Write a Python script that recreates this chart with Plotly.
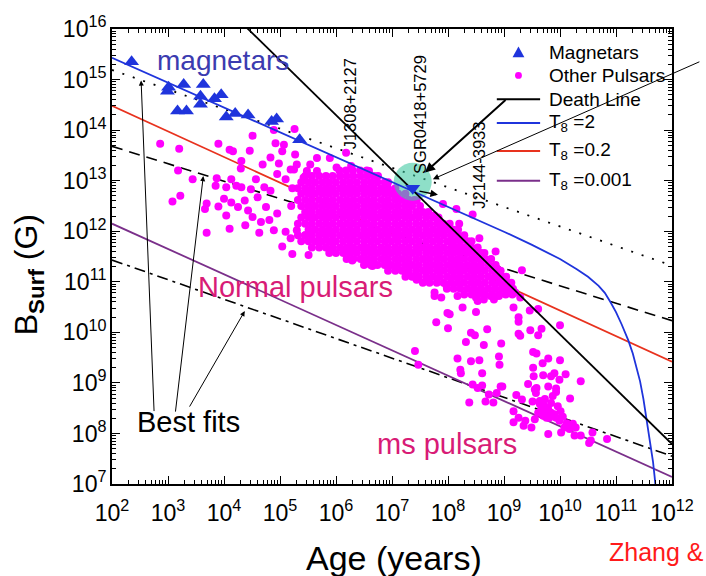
import plotly.graph_objects as go

FONT = "Liberation Sans, Arial, sans-serif"

# ---------------- data (log10 of age in years, log10 of B in gauss) ----------------
MAG_LOG_AGE = [2.35, 3.01, 2.99, 3.28, 3.63, 3.58, 3.58, 3.17, 3.33, 3.83, 3.95,
               4.04, 4.20, 4.43, 4.85, 4.94, 5.35]
MAG_LOG_B = [15.35, 14.85, 14.77, 14.90, 14.90, 14.67, 14.51, 14.38, 14.38, 14.62, 14.70,
             14.26, 14.33, 14.30, 14.17, 14.22, 13.81]

SGR_LOG_AGE = [7.37]
SGR_LOG_B = [12.85]
HALO_LOG_AGE = [7.37]
HALO_LOG_B = [12.98]

# isolated pulsars
PSR_LOG_AGE = [
    2.86, 3.20, 3.18, 3.90, 4.10, 4.16, 4.46, 4.51, 4.31, 4.69, 4.89, 4.92, 5.07, 5.04, 4.83,
    4.98, 5.26, 5.27, 5.30, 5.54, 5.66, 5.19, 5.48, 3.44, 3.87, 3.85, 3.08, 3.22, 3.69, 3.66,
    3.90, 4.04, 4.13, 4.30, 4.22, 4.31, 4.00, 4.13, 4.04, 4.10, 3.69, 4.25, 4.37, 4.43, 4.38,
    4.51, 4.57, 4.48, 4.60, 4.66, 4.63, 4.75, 4.72, 4.83, 4.81, 4.89, 4.95, 5.04, 5.22, 5.51,
    5.19, 5.10, 5.30, 5.45, 5.71, 5.92, 4.95, 5.10, 5.25, 5.42, 5.66, 6.01, 5.89, 6.27, 6.18,
    6.59, 7.44, 7.06, 7.76, 7.85, 7.94, 8.08, 8.44, 8.20, 8.85, 9.32, 8.56, 8.87, 9.02, 9.17,
    9.29, 7.36, 7.76, 7.88, 8.59, 8.76, 9.20, 7.91, 8.15, 6.29, 6.65, 7.25, 7.44, 7.62, 7.76,
    7.79, 7.99, 8.03, 8.00, 7.97, 8.17, 8.26, 7.41, 7.47, 8.17, 8.22, 8.50, 8.64, 8.82, 8.91,
    8.53, 8.50, 9.17, 9.46, 9.61, 9.26, 9.26, 8.41, 8.48, 8.70, 9.26, 9.29, 9.47, 9.67, 9.61,
    10.00, 8.32, 8.64, 8.95, 8.41, 8.56, 8.91, 8.92, 9.58, 9.69, 9.79, 10.00, 9.52, 8.61, 9.53,
    9.70, 9.84, 9.90, 10.10, 9.99, 10.37, 8.44, 9.43, 9.58, 9.79, 9.93, 8.97, 8.23, 8.38, 8.53,
    8.61, 8.67, 8.81, 8.73, 8.87, 8.94, 9.22, 9.55, 9.57, 9.93, 10.18, 9.32, 9.51,
    9.64, 9.70, 9.76, 9.67, 9.73, 9.79, 9.84, 9.90, 9.81, 9.93, 9.99, 9.76, 9.61, 9.70, 9.64,
    9.84, 9.73, 9.87, 9.96, 10.01, 10.05,
    9.17, 9.26, 9.17, 9.35, 9.49, 9.38, 9.55, 9.79, 10.02, 10.08, 10.17, 10.23, 10.28, 10.26,
    10.37, 10.58, 10.55, 10.52, 10.84, 10.12, 9.52,
]
PSR_LOG_B = [
    13.73, 13.63, 13.20, 13.73, 13.61, 13.58, 13.59, 13.89, 13.39, 13.32, 14.00, 13.74, 13.71, 13.58, 13.46,
    13.34, 14.02, 13.52, 13.32, 13.32, 13.45, 13.22, 13.19, 13.03, 13.05, 12.90, 12.59, 12.70, 12.55, 12.44,
    12.49, 12.87, 13.03, 13.24, 12.90, 12.87, 12.64, 12.57, 12.31, 12.05, 11.97, 12.48, 12.61, 12.41, 12.12,
    12.28, 13.03, 12.83, 12.67, 12.18, 11.97, 12.48, 12.87, 12.80, 12.22, 12.02, 12.35, 11.70, 11.55, 11.53,
    11.86, 11.99, 12.02, 11.92, 11.79, 11.79, 13.13, 13.03, 13.22, 13.06, 13.19, 13.26, 13.45, 13.29, 13.55,
    13.19, 12.61, 12.67, 12.31, 12.18, 12.02, 11.76, 12.33, 12.15, 11.60, 11.23, 11.86, 11.27, 10.85, 10.79,
    10.69, 11.11, 10.79, 10.69, 10.85, 10.72, 10.79, 12.54, 12.44, 11.42, 11.31, 11.12, 11.04, 11.08, 10.72,
    10.20, 10.38, 10.36, 10.08, 10.93, 10.72, 10.49, 9.63, 9.36, 9.48, 9.26, 10.69, 10.65, 10.65, 10.72,
    10.62, 10.40, 10.49, 10.43, 10.46, 10.30, 10.21, 9.99, 9.94, 10.06, 9.97, 9.93, 10.04, 10.07, 9.94,
    10.14, 9.81, 9.75, 9.78, 9.43, 9.45, 9.52, 9.36, 9.58, 9.39, 9.48, 9.45, 9.30, 9.19, 9.13,
    9.15, 9.13, 9.19, 9.17, 9.06, 9.03, 8.97, 8.98, 8.90, 8.93, 8.89, 8.93, 9.19, 8.61, 8.90,
    8.95, 8.63, 8.61, 8.77, 8.80, 8.93, 8.76, 8.87, 8.80, 8.82, 8.69, 8.67, 8.63,
    8.64, 8.58, 8.51, 8.51, 8.44, 8.48, 8.41, 8.38, 8.31, 8.31, 8.25, 8.31, 8.41, 8.35, 8.58,
    8.60, 8.68, 8.74, 8.54, 8.44, 8.33,
    8.44, 8.31, 8.22, 8.15, 8.12, 8.25, 8.28, 7.99, 8.02, 8.12, 8.09, 8.19, 8.12, 7.96,
    7.96, 8.02, 7.86, 7.81, 7.89, 8.20, 9.61,
]

# crowded population of normal pulsars, row by row (log B of each row, log ages in it)
CORE_ROW_LOG_B = [13.20, 13.09, 12.97, 12.85, 12.74, 12.62, 12.50, 12.38, 12.27, 12.15, 12.03,
                  11.92, 11.80, 11.68, 11.57, 11.45, 11.33, 11.22, 11.10, 10.98, 10.86, 10.75]
CORE_ROW_LOG_AGE = [
    [6.06, 6.18, 6.30, 6.43, 6.55],
    [5.45, 5.57, 5.70, 5.82, 5.94, 6.07, 6.19, 6.31, 6.44, 6.56, 6.68, 6.75],
    [5.38, 5.51, 5.63, 5.76, 5.88, 6.00, 6.13, 6.25, 6.37, 6.50, 6.62, 6.74, 6.87, 6.93],
    [5.22, 5.32, 5.45, 5.57, 5.70, 5.82, 5.94, 6.07, 6.19, 6.31, 6.44, 6.56, 6.68, 6.81, 6.93, 7.06],
    [5.38, 5.51, 5.63, 5.76, 5.88, 6.00, 6.13, 6.25, 6.37, 6.50, 6.62, 6.74, 6.87, 6.99, 7.11, 7.24],
    [5.32, 5.45, 5.57, 5.70, 5.82, 5.94, 6.07, 6.19, 6.31, 6.44, 6.56, 6.68, 6.81, 6.93, 7.06, 7.18,
     7.30, 7.40],
    [5.20, 5.38, 5.51, 5.63, 5.76, 5.88, 6.00, 6.13, 6.25, 6.37, 6.50, 6.62, 6.74, 6.87, 6.99, 7.11, 7.24,
     7.36, 7.50],
    [5.45, 5.57, 5.70, 5.82, 5.94, 6.07, 6.19, 6.31, 6.44, 6.56, 6.68, 6.81, 6.93, 7.06, 7.18,
     7.30, 7.43, 7.55, 7.65],
    [5.38, 5.51, 5.63, 5.76, 5.88, 6.00, 6.13, 6.25, 6.37, 6.50, 6.62, 6.74, 6.87, 6.99, 7.11, 7.24,
     7.36, 7.48, 7.61, 7.73, 7.83],
    [5.32, 5.45, 5.57, 5.70, 5.82, 5.94, 6.07, 6.19, 6.31, 6.44, 6.56, 6.68, 6.81, 6.93, 7.06, 7.18,
     7.30, 7.43, 7.55, 7.67, 7.80, 7.92, 8.03],
    [5.51, 5.63, 5.76, 5.88, 6.00, 6.13, 6.25, 6.37, 6.50, 6.62, 6.74, 6.87, 6.99, 7.11, 7.24,
     7.36, 7.48, 7.61, 7.73, 7.85, 7.98, 8.10, 8.18],
    [5.32, 5.45, 5.57, 5.70, 5.82, 5.94, 6.07, 6.19, 6.31, 6.44, 6.56, 6.68, 6.81, 6.93, 7.06, 7.18,
     7.30, 7.43, 7.55, 7.67, 7.80, 7.92, 8.05, 8.17, 8.29],
    [5.38, 5.51, 5.63, 5.76, 5.88, 6.00, 6.13, 6.25, 6.37, 6.50, 6.62, 6.74, 6.87, 6.99, 7.11, 7.24,
     7.36, 7.48, 7.61, 7.73, 7.85, 7.98, 8.10, 8.22, 8.35, 8.42],
    [5.57, 5.70, 5.82, 5.94, 6.07, 6.19, 6.31, 6.44, 6.56, 6.68, 6.81, 6.93, 7.06, 7.18, 7.30, 7.43,
     7.55, 7.67, 7.80, 7.92, 8.05, 8.17, 8.29, 8.42, 8.53],
    [5.88, 6.00, 6.13, 6.25, 6.37, 6.50, 6.62, 6.74, 6.87, 6.99, 7.11, 7.24, 7.36, 7.48, 7.61, 7.73,
     7.85, 7.98, 8.10, 8.22, 8.35, 8.47, 8.59, 8.65],
    [6.19, 6.31, 6.44, 6.56, 6.68, 6.81, 6.93, 7.06, 7.18, 7.30, 7.43, 7.55, 7.67, 7.80, 7.92, 8.05,
     8.17, 8.29, 8.42, 8.54, 8.66, 8.77],
    [6.50, 6.62, 6.74, 6.87, 6.99, 7.11, 7.24, 7.36, 7.48, 7.61, 7.73, 7.85, 7.98, 8.10, 8.22, 8.35,
     8.47, 8.59, 8.72, 8.85],
    [6.93, 7.06, 7.18, 7.30, 7.43, 7.55, 7.67, 7.80, 7.92, 8.05, 8.17, 8.29, 8.42, 8.54, 8.66, 8.79,
     8.94],
    [7.24, 7.36, 7.48, 7.61, 7.73, 7.85, 7.98, 8.10, 8.22, 8.35, 8.47, 8.59, 8.72, 8.84, 8.96, 9.04],
    [7.55, 7.67, 7.80, 7.92, 8.05, 8.17, 8.29, 8.42, 8.54, 8.66, 8.79, 8.91, 9.03, 9.13],
    [7.98, 8.10, 8.22, 8.35, 8.47, 8.59, 8.72, 8.84, 8.96, 9.09, 9.16],
    [8.29, 8.42, 8.54, 8.66, 8.79, 8.91, 9.03, 9.15],
]

# model / fit lines
LINE_LOG_AGE = [2.0, 12.0]
FIT_MAG_LOG_B = [15.19, 11.32]      # dotted
FIT_NORMAL_LOG_B = [13.68, 10.23]   # dashed
FIT_MS_LOG_B = [11.43, 7.55]        # dash-dot
T02_LOG_B = [14.48, 9.42]
T0001_LOG_B = [12.15, 7.14]
DEATH_LOG_AGE = [4.30, 12.0]
DEATH_LOG_B = [16.14, 7.79]
T2_LOG_AGE = [2.0, 6.0, 8.0, 9.0, 9.5, 10.0, 10.3, 10.5, 10.69, 10.8, 10.9, 11.0, 11.1, 11.22,
              11.3, 11.37, 11.43, 11.49, 11.54, 11.59, 11.63, 11.66, 11.69, 11.71]
T2_LOG_B = [15.43, 13.47, 12.49, 11.99, 11.73, 11.45, 11.25, 11.10, 10.92, 10.78, 10.60, 10.40, 10.16, 9.84,
            9.58, 9.30, 9.03, 8.68, 8.31, 7.98, 7.73, 7.45, 7.14, 6.90]

LEGEND_LABELS = ["Magnetars", "Other Pulsars", "Death Line",
                 "T<sub>8</sub> =2", "T<sub>8</sub> =0.2", "T<sub>8</sub> =0.001"]


def lin(vals):
    return [10 ** v for v in vals]


core_age, core_b = [], []
for lb, row in zip(CORE_ROW_LOG_B, CORE_ROW_LOG_AGE):
    core_age += row
    core_b += [lb] * len(row)

BLUE = "#1f34dc"
RED = "#e8321e"
PURPLE = "#7a2f8a"
MAGENTA = "#ff00ff"
PINK_TXT = "#d81b76"

# plot area in pixels (for legend / text placement in paper space)
L, R, T, B = 112, 681, 23, 484


def px_x(p):
    return (p - L) / (R - L)


def px_y(p):
    return 1 - (p - T) / (B - T)


fig = go.Figure()


def add_line(xs, ys, color, width=1.8, dash="solid"):
    fig.add_trace(go.Scatter(
        x=lin(xs), y=lin(ys), mode="lines", line=dict(color=color, width=width, dash=dash),
        showlegend=False, hoverinfo="skip"))


add_line(LINE_LOG_AGE, FIT_MAG_LOG_B, "black", 1.8, "2px,9px")
add_line(LINE_LOG_AGE, FIT_NORMAL_LOG_B, "black", 1.6, "11px,7px")
add_line(LINE_LOG_AGE, FIT_MS_LOG_B, "black", 1.6, "11px,5px,3px,5px")
add_line(LINE_LOG_AGE, T02_LOG_B, RED, 1.8)
add_line(LINE_LOG_AGE, T0001_LOG_B, PURPLE, 1.8)

fig.add_trace(go.Scatter(
    x=lin(PSR_LOG_AGE + core_age), y=lin(PSR_LOG_B + core_b), mode="markers",
    marker=dict(color=MAGENTA, size=8, line=dict(width=0)),
    showlegend=False, hoverinfo="skip"))

fig.add_trace(go.Scatter(
    x=lin(HALO_LOG_AGE), y=lin(HALO_LOG_B), mode="markers",
    marker=dict(color="rgba(60,200,160,0.58)", size=38, line=dict(width=0)),
    showlegend=False, hoverinfo="skip"))

add_line(T2_LOG_AGE, T2_LOG_B, BLUE, 1.8)
add_line(DEATH_LOG_AGE, DEATH_LOG_B, "black", 1.8)

fig.add_trace(go.Scatter(
    x=lin(MAG_LOG_AGE), y=lin(MAG_LOG_B), mode="markers",
    marker=dict(symbol="triangle-up", color=BLUE, size=13, line=dict(width=0)),
    showlegend=False, hoverinfo="skip"))
fig.add_trace(go.Scatter(
    x=lin(SGR_LOG_AGE), y=lin(SGR_LOG_B), mode="markers",
    marker=dict(symbol="triangle-down", color=BLUE, size=13, line=dict(width=0)),
    showlegend=False, hoverinfo="skip"))

ann = []
shapes = []


def label(text, lx, ly, size, color, angle=0):
    ann.append(dict(text=text, x=lx, y=ly, xref="x", yref="y", showarrow=False, textangle=angle,
                    font=dict(family=FONT, size=size, color=color), xanchor="center", yanchor="middle"))


label("magnetars", 3.98, 15.37, 28, "#3b3bb0")
label("Normal pulsars", 5.28, 10.90, 29, PINK_TXT)
label("ms pulsars", 7.98, 7.80, 29, PINK_TXT)
label("Best fits", 3.36, 8.22, 29, "black")
label("J1308+2127", 6.25, 14.51, 16.5, "black", -90)
label("SGR0418+5729", 7.50, 14.30, 16.5, "black", -90)
label("J2144-3933", 8.54, 13.30, 16.5, "black", -90)


def arrow(hx, hy, ax, ay, width=1.0, size=1.0):
    ann.append(dict(text="", x=hx, y=hy, xref="x", yref="y", ax=ax, ay=ay, axref="pixel", ayref="pixel",
                    showarrow=True, arrowhead=2, arrowsize=size, arrowwidth=width, arrowcolor="black",
                    standoff=0))


arrow(2.52, 14.98, 13, 332)
arrow(3.63, 13.09, -28, 237)
arrow(4.37, 10.42, -56, 97)
arrow(7.59, 13.16, 82, -74, 2.0, 1.0)
arrow(7.73, 13.03, 268, -118, 1.0, 1.2)
arrow(7.82, 12.72, -20, -4, 1.5, 1.0)

# legend, drawn in paper space
row_y = [46.7, 70.0, 94.3, 118.3, 146.7, 176.7]
sym_x0, sym_x1, txt_x = 503, 547, 554
for text, yy in zip(LEGEND_LABELS, row_y):
    ann.append(dict(text=text, x=px_x(txt_x), y=px_y(yy), xref="paper", yref="paper", showarrow=False,
                    font=dict(family=FONT, size=19, color="black"), xanchor="left", yanchor="middle"))
cx = (sym_x0 + sym_x1) / 2
shapes.append(dict(type="path", xref="paper", yref="paper", fillcolor=BLUE, line=dict(width=0),
                   path="M {:.5f},{:.5f} L {:.5f},{:.5f} L {:.5f},{:.5f} Z".format(
                       px_x(cx - 6), px_y(row_y[0] + 5), px_x(cx + 6), px_y(row_y[0] + 5),
                       px_x(cx), px_y(row_y[0] - 6))))
shapes.append(dict(type="circle", xref="paper", yref="paper", fillcolor=MAGENTA, line=dict(width=0),
                   x0=px_x(cx - 3.5), x1=px_x(cx + 3.5), y0=px_y(row_y[1] + 3.5), y1=px_y(row_y[1] - 3.5)))
for yy, col in zip(row_y[2:], ["black", BLUE, RED, PURPLE]):
    shapes.append(dict(type="line", xref="paper", yref="paper", x0=px_x(sym_x0), x1=px_x(sym_x1),
                       y0=px_y(yy), y1=px_y(yy), line=dict(color=col, width=2)))

ann.append(dict(text="B<sub><b>Surf</b></sub> (G)", x=-0.149, y=0.46, xref="paper", yref="paper",
                showarrow=False, textangle=-90, font=dict(family=FONT, size=32, color="black"),
                xanchor="center", yanchor="middle"))
ann.append(dict(text="Age (years)", x=px_x(399), y=-0.162, xref="paper", yref="paper", showarrow=False,
                font=dict(family=FONT, size=34, color="black"), xanchor="center", yanchor="middle"))
ann.append(dict(text="Zhang &", x=px_x(615), y=px_y(553), xref="paper", yref="paper", showarrow=False,
                font=dict(family=FONT, size=25, color="#ff1a1a"), xanchor="left", yanchor="middle"))

axis_common = dict(
    type="log", dtick=1, exponentformat="power", showgrid=False, zeroline=False,
    showline=True, linecolor="black", linewidth=1.6, mirror="ticks",
    ticks="inside", ticklen=8, tickwidth=1.4, tickcolor="black",
    tickfont=dict(family=FONT, size=18.5, color="black"),
    minor=dict(ticks="inside", ticklen=4, tickwidth=1, tickcolor="black", dtick="D1", showgrid=False),
)

fig.update_layout(
    width=706, height=576,
    margin=dict(l=L, r=706 - R, t=T, b=576 - B),
    paper_bgcolor="white", plot_bgcolor="white",
    xaxis=dict(range=[2, 12], ticklabelstandoff=8, **axis_common),
    yaxis=dict(range=[7, 16], **axis_common),
    annotations=ann,
    shapes=shapes,
    showlegend=False,
)

fig.write_html("out.html")
